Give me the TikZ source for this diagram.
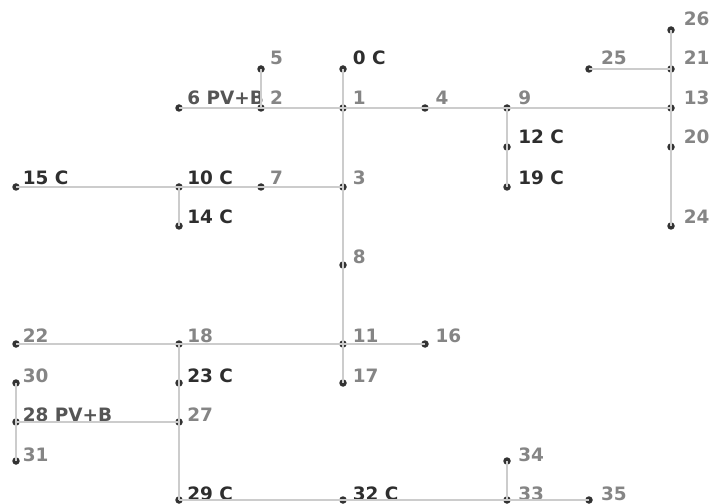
\documentclass[tikz,border=0pt]{standalone}
\usepackage{fontspec}
\setmainfont{DejaVu Sans}
\begin{document}
\begin{tikzpicture}[x=1bp,y=-1bp,
  dot/.style={circle,fill=dotc,inner sep=0pt,minimum size=7.5bp},
  edge/.style={draw=linec,line width=1.2bp},
  lblbase/.style={anchor=base west,inner sep=0pt,font=\fontsize{18.5}{22}\selectfont\bfseries},
  lblgray/.style={lblbase,text=grayc},
  lbldark/.style={lblbase,text=darkc},
  lblmid/.style={lblbase,text=midc}]
\definecolor{dotc}{HTML}{333333}
\definecolor{linec}{HTML}{CCCCCC}
\definecolor{grayc}{HTML}{858585}
\definecolor{darkc}{HTML}{2E2E2E}
\definecolor{midc}{HTML}{555555}
\useasboundingbox (0,0) rectangle (709,504);
\newcommand{\bus}[5]{%
  \node[dot] (n#1) at (#2,#3) {};
  \node[#5] (l#1) at ({#2+6.5+0.009*#2},{#3-4.8+0.011*#3}) {#4};}
\bus{26}{671}{30}{26}{lblgray}
\bus{5}{261}{69}{5}{lblgray}
\bus{0}{343}{69}{0 C}{lbldark}
\bus{25}{589}{69}{25}{lblgray}
\bus{21}{671}{69}{21}{lblgray}
\bus{6}{179}{108}{6 PV+B}{lblmid}
\bus{2}{261}{108}{2}{lblgray}
\bus{1}{343}{108}{1}{lblgray}
\bus{4}{425}{108}{4}{lblgray}
\bus{9}{507}{108}{9}{lblgray}
\bus{13}{671}{108}{13}{lblgray}
\bus{12}{507}{147}{12 C}{lbldark}
\bus{20}{671}{147}{20}{lblgray}
\bus{15}{16}{187}{15 C}{lbldark}
\bus{10}{179}{187}{10 C}{lbldark}
\bus{7}{261}{187}{7}{lblgray}
\bus{3}{343}{187}{3}{lblgray}
\bus{19}{507}{187}{19 C}{lbldark}
\bus{14}{179}{226}{14 C}{lbldark}
\bus{24}{671}{226}{24}{lblgray}
\bus{8}{343}{265}{8}{lblgray}
\bus{22}{16}{344}{22}{lblgray}
\bus{18}{179}{344}{18}{lblgray}
\bus{11}{343}{344}{11}{lblgray}
\bus{16}{425}{344}{16}{lblgray}
\bus{30}{16}{383}{30}{lblgray}
\bus{23}{179}{383}{23 C}{lbldark}
\bus{17}{343}{383}{17}{lblgray}
\bus{28}{16}{422}{28 PV+B}{lblmid}
\bus{27}{179}{422}{27}{lblgray}
\bus{31}{16}{461}{31}{lblgray}
\bus{34}{507}{461}{34}{lblgray}
\bus{29}{179}{500}{29 C}{lbldark}
\bus{32}{343}{500}{32 C}{lbldark}
\bus{33}{507}{500}{33}{lblgray}
\bus{35}{589}{500}{35}{lblgray}
\foreach \a/\b in {0/1,5/2,6/2,2/1,1/4,4/9,9/13,1/3,3/7,7/10,10/15,10/14,3/8,8/11,11/16,11/17,11/18,18/22,18/23,23/27,27/28,28/30,28/31,27/29,29/32,32/33,33/34,33/35,9/12,12/19,13/21,21/26,21/25,13/20,20/24}
  \draw[edge] (n\a.center) -- (n\b.center);
\end{tikzpicture}
\end{document}
